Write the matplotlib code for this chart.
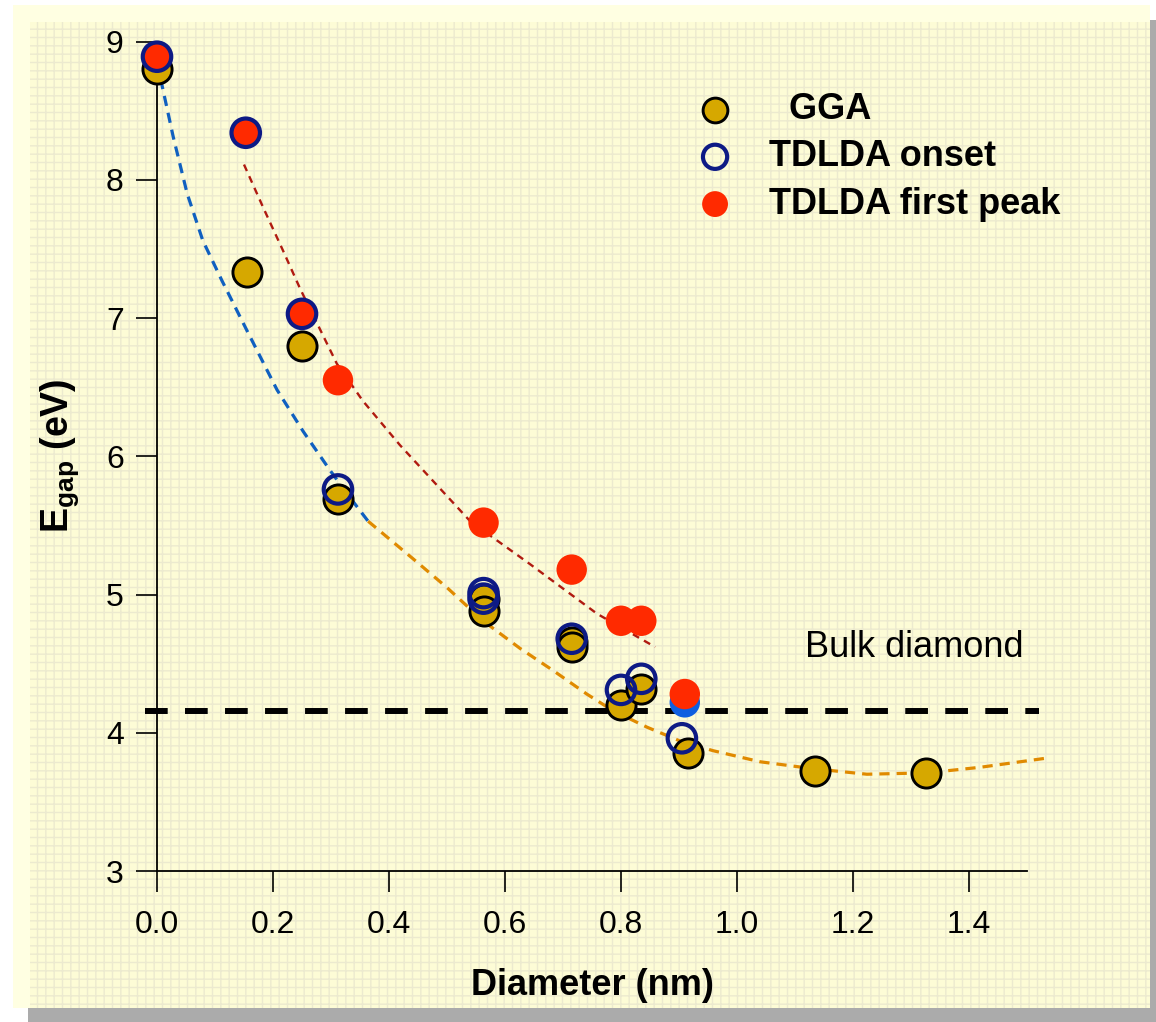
import matplotlib
matplotlib.use("Agg")
import matplotlib.pyplot as plt
from matplotlib.patches import Rectangle

plt.rcParams['font.family'] = ['Liberation Sans', 'DejaVu Sans']
plt.rcParams['mathtext.fontset'] = 'custom'
plt.rcParams['mathtext.rm'] = 'Liberation Sans'
plt.rcParams['mathtext.bf'] = 'Liberation Sans:bold'
plt.rcParams['hatch.linewidth'] = 1.0

# ---- data ----
gga_x = [0.0, 0.155, 0.25, 0.312, 0.563, 0.563, 0.715, 0.715, 0.80, 0.835, 0.915, 1.134, 1.326]
gga_y = [8.80, 7.33, 6.80, 5.69, 4.97, 4.88, 4.66, 4.62, 4.20, 4.32, 3.85, 3.72, 3.71]

onset_x = [0.0, 0.153, 0.25, 0.312, 0.563, 0.563, 0.715, 0.80, 0.835, 0.905]
onset_y = [8.89, 8.34, 7.03, 5.76, 5.01, 4.97, 4.68, 4.31, 4.39, 3.96]

onset_filled_x = [0.91]
onset_filled_y = [4.22]

peak_x = [0.0, 0.153, 0.25, 0.312, 0.563, 0.715, 0.80, 0.835, 0.91]
peak_y = [8.89, 8.34, 7.03, 6.55, 5.52, 5.18, 4.81, 4.81, 4.28]

# fitted guide curves
blue_fit_x = [0.0, 0.028, 0.052, 0.079, 0.112, 0.155, 0.207, 0.252, 0.298, 0.333, 0.364]
blue_fit_y = [8.85, 8.31, 7.90, 7.56, 7.27, 6.91, 6.48, 6.18, 5.90, 5.70, 5.53]

orange_fit_x = [0.364, 0.384, 0.441, 0.500, 0.562, 0.626, 0.683, 0.741, 0.786, 0.845, 0.902,
                0.959, 1.040, 1.131, 1.224, 1.328, 1.419, 1.540]
orange_fit_y = [5.53, 5.46, 5.26, 5.05, 4.81, 4.61, 4.45, 4.28, 4.16, 4.04, 3.94,
                3.87, 3.79, 3.74, 3.70, 3.71, 3.75, 3.82]

red_fit_x = [0.150, 0.183, 0.217, 0.247, 0.310, 0.355, 0.419, 0.540, 0.643, 0.759, 0.859]
red_fit_y = [8.11, 7.80, 7.49, 7.21, 6.67, 6.40, 6.08, 5.53, 5.22, 4.86, 4.62]

bulk_gap = 4.16
bulk_x = [-0.02, 1.52]

xticks = [0.0, 0.2, 0.4, 0.6, 0.8, 1.0, 1.2, 1.4]
yticks = [3, 4, 5, 6, 7, 8, 9]

W, H = 1156, 1022
fig = plt.figure(figsize=(W / 100, H / 100), dpi=100)
fig.patch.set_facecolor('white')

def frect(x0, y0, x1, y1, **kw):
    # pixel box (top-left origin) -> figure fraction rectangle
    r = Rectangle((x0 / W, 1 - y1 / H), (x1 - x0) / W, (y1 - y0) / H,
                  transform=fig.transFigure, **kw)
    fig.patches.append(r)
    return r

# slide shadow
frect(28, 1008, 1156, 1022, facecolor='#ABABAB', edgecolor='none', zorder=-10)
frect(1148, 20, 1156, 1022, facecolor='#ABABAB', edgecolor='none', zorder=-10)
# pale outer panel
frect(13, 5, 1150, 1008, facecolor='#FFFFE2', edgecolor='none', zorder=-9)
# textured inner panel
frect(30, 22, 1150, 1008, facecolor='#FDFCD6', edgecolor='none', zorder=-8)
frect(30, 22, 1150, 1008, facecolor='none', edgecolor='#ECEACF', hatch='++',
      linewidth=0, zorder=-7)

ax = fig.add_axes([157 / W, 1 - 871 / H, 870 / W, 829.5 / H])
ax.set_facecolor('none')
ax.set_xlim(0, 1.5)
ax.set_ylim(3, 9)

for s in ['top', 'right']:
    ax.spines[s].set_visible(False)
for s in ['left', 'bottom']:
    ax.spines[s].set_linewidth(1.3)

ax.set_xticks(xticks)
ax.set_xticklabels([f'{t:.1f}' for t in xticks])
ax.set_yticks(yticks)
ax.set_yticklabels([str(t) for t in yticks])
ax.tick_params(axis='both', direction='out', length=15, width=1.2, labelsize=23)
ax.tick_params(axis='x', pad=13)
ax.tick_params(axis='y', pad=9)

# guide curves
ax.plot(blue_fit_x, blue_fit_y, color='#1060C0', lw=2.3, dashes=(3.2, 2.2), zorder=2, clip_on=False)
ax.plot(orange_fit_x, orange_fit_y, color='#E08A00', lw=2.3, dashes=(3.2, 2.2), zorder=2, clip_on=False)
ax.plot(red_fit_x, red_fit_y, color='#B01A10', lw=1.7, dashes=(3.0, 2.4), zorder=2, clip_on=False)

# bulk diamond line
ax.plot(bulk_x, [bulk_gap, bulk_gap], color='black', lw=4.3, dashes=(3.8, 2.9), zorder=3,
        clip_on=False)
ax.text(1.305, 4.62, 'Bulk diamond', fontsize=26, ha='center', va='center')

# markers
s_mark = 440
h_gga = ax.scatter(gga_x, gga_y, s=s_mark, facecolor='#D6A800', edgecolor='black',
                   linewidth=2.1, zorder=4, clip_on=False)
ax.scatter(onset_filled_x, onset_filled_y, s=480, facecolor='#0F5FE0', edgecolor='none',
           zorder=4.5, clip_on=False)
h_peak = ax.scatter(peak_x, peak_y, s=480, facecolor='#FF2A00', edgecolor='none',
                    zorder=5, clip_on=False)
h_onset = ax.scatter(onset_x, onset_y, s=420, facecolor='none', edgecolor='#0D1A85',
                     linewidth=3.0, zorder=6, clip_on=False)

leg = ax.legend([h_gga, h_onset, h_peak], ['  GGA', 'TDLDA onset', 'TDLDA first peak'],
                loc='upper left', bbox_to_anchor=(697 / W, 1 - 92 / H),
                bbox_transform=fig.transFigure, frameon=False, markerscale=0.85,
                prop={'weight': 'bold', 'size': 26}, handlelength=1.0,
                handletextpad=1.0, labelspacing=0.34, borderpad=0, borderaxespad=0)

ax.set_xlabel('Diameter (nm)', fontsize=26, fontweight='bold', labelpad=20)
ax.set_ylabel(r'$\mathbf{E}_{\mathbf{gap}}$ (eV)', fontsize=27, fontweight='bold', labelpad=18)

fig.savefig('out.png', dpi=100, facecolor=fig.get_facecolor())
